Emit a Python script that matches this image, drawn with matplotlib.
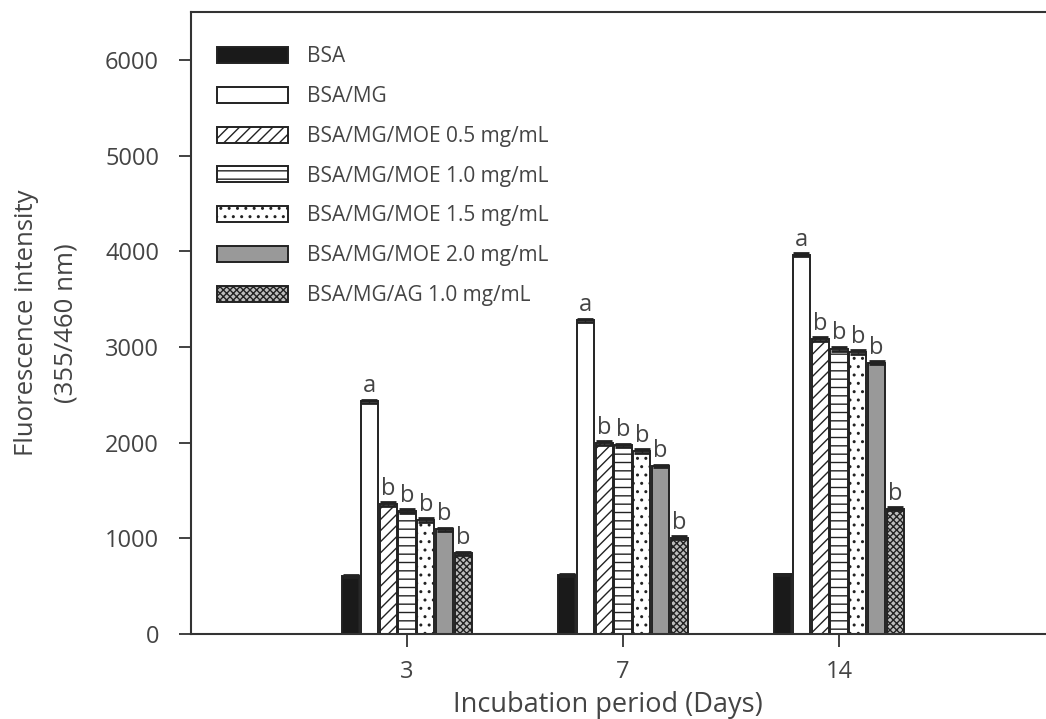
import matplotlib
matplotlib.use('Agg')
import matplotlib.pyplot as plt
import numpy as np

plt.rcParams['font.family'] = ['Open Sans', 'DejaVu Sans']
plt.rcParams['hatch.linewidth'] = 1.0

days = ['3', '7', '14']
groups = ['BSA', 'BSA/MG', 'BSA/MG/MOE 0.5 mg/mL', 'BSA/MG/MOE 1.0 mg/mL',
          'BSA/MG/MOE 1.5 mg/mL', 'BSA/MG/MOE 2.0 mg/mL', 'BSA/MG/AG 1.0 mg/mL']

# fluorescence per group, columns = day 3, 7, 14
bsa = [605, 612, 622]
bsa_mg = [2432, 3278, 3965]
moe_05 = [1360, 1992, 3082]
moe_10 = [1285, 1970, 2982]
moe_15 = [1192, 1912, 2945]
moe_20 = [1095, 1755, 2833]
ag_10 = [845, 1008, 1310]
values = [bsa, bsa_mg, moe_05, moe_10, moe_15, moe_20, ag_10]

err = [10, 15, 20, 20, 20, 15, 15]
letters = [['', '', ''], ['a', 'a', 'a'], ['b', 'b', 'b'], ['b', 'b', 'b'],
           ['b', 'b', 'b'], ['b', 'b', 'b'], ['b', 'b', 'b']]

faces = ['#1a1a1a', 'white', 'white', 'white', 'white', '#999999', '#bdbdbd']
hatches = [None, None, '///', '--', '..', None, 'xxxxx']

fig = plt.figure(figsize=(10.46, 7.19), dpi=100)
ax = fig.add_axes([191/1046, 85/719, 855/1046, 622/719])

x = np.arange(len(days))
slot = 0.087
width = 0.08
for i, (vals, name) in enumerate(zip(values, groups)):
    pos = x + (i - 3) * slot
    ax.bar(pos, vals, width, color=faces[i], edgecolor='#222222', linewidth=1.4,
           hatch=hatches[i], label=name,
           yerr=err[i], capsize=6, error_kw=dict(elinewidth=1.0, capthick=2.0, ecolor='#222222'))
    for p, v, t in zip(pos, vals, letters[i]):
        if t:
            ax.annotate(t, (p, v + err[i]), xytext=(0, 1), textcoords='offset points',
                        ha='center', va='bottom', fontsize=17, color='#444444')

ax.set_xlim(-1.0, 2.958)
ax.set_ylim(0, 6500)
ax.set_yticks(range(0, 7000, 1000))
ax.set_xticks(x)
ax.set_xticklabels(days)
ax.spines['right'].set_visible(False)
for s in ['left', 'top', 'bottom']:
    ax.spines[s].set_color('#333333')
    ax.spines[s].set_linewidth(1.5)
ax.tick_params(axis='y', direction='out', length=9, width=1.3, color='#333333',
               labelsize=17, labelcolor='#444444', pad=14)
ax.tick_params(axis='x', direction='out', length=9, width=1.3, color='#333333',
               labelsize=17, labelcolor='#444444', pad=10)

ax.set_xlabel('Incubation period (Days)', fontsize=19.5, color='#444444')
ax.xaxis.set_label_coords(0.487, -0.092)
ax.set_ylabel('Fluorescence intensity\n(355/460 nm)', fontsize=18.5, color='#444444',
              linespacing=1.75)
ax.yaxis.set_label_coords(-0.132, 0.5)

leg = ax.legend(loc='upper left', bbox_to_anchor=(0.009, 0.975), frameon=False,
                fontsize=15, handlelength=3.4, handleheight=0.8,
                labelspacing=0.9, handletextpad=0.9, labelcolor='#444444')

fig.savefig('out.png', dpi=100)
